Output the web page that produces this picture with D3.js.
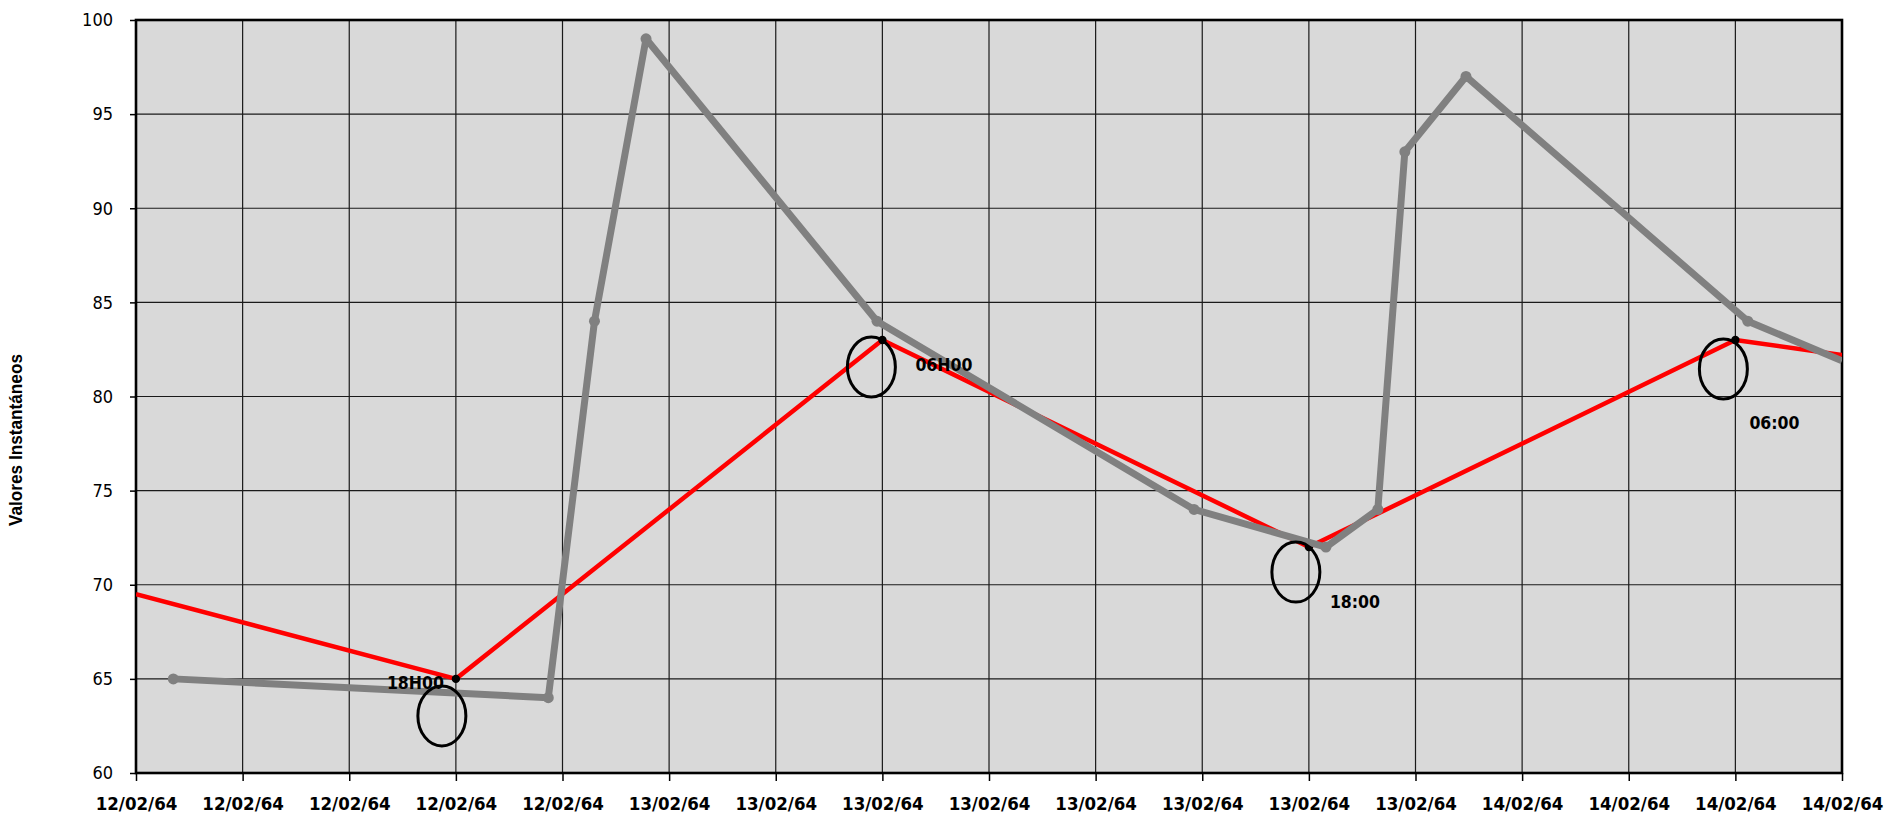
<!DOCTYPE html>
<html>
<head>
<meta charset="utf-8">
<script src="https://cdn.jsdelivr.net/npm/d3@7/dist/d3.min.js"></script>
<style>
  html, body { margin: 0; padding: 0; background: #ffffff; }
  svg { display: block; }
</style>
</head>
<body>
<svg id="chart" width="1888" height="817"></svg>
<script>
// ---- data ----
const xTickHours = [9, 12, 15, 18, 21, 24, 27, 30, 33, 36, 39, 42, 45, 48, 51, 54, 57];
const xTickLabels = ["12/02/64","12/02/64","12/02/64","12/02/64","12/02/64",
                     "13/02/64","13/02/64","13/02/64","13/02/64","13/02/64","13/02/64","13/02/64","13/02/64",
                     "14/02/64","14/02/64","14/02/64","14/02/64"];
const yTicks = [60, 65, 70, 75, 80, 85, 90, 95, 100];

const redHours  = [9, 18, 30, 42, 54, 57];
const redValues = [69.5, 65, 83, 72, 83, 82.2];

const grayHours  = [10.05, 20.6, 21.9, 23.35, 29.85, 38.77, 42.48, 43.94, 44.7, 46.42, 54.35, 57];
const grayValues = [65, 64, 84, 99, 84, 74, 72, 74, 93, 97, 84, 81.9];

const noteHours  = [18, 30, 42, 54];
const noteValues = [65, 83, 72, 83];
const noteLabels = ["18H00", "06H00", "18:00", "06:00"];

const yTitle = "Valores Instantáneos";

// ---- layout ----
const mLeft = 136, mRight = 1842, mTop = 20, mBottom = 773;
const svg = d3.select("#chart");

const x = d3.scaleLinear().domain([9, 57]).range([mLeft, mRight]);
const y = d3.scaleLinear().domain([60, 100]).range([mBottom, mTop]);

const condensed = "'DejaVu Sans Condensed', 'DejaVu Sans', sans-serif";

// plot background
svg.append("rect").attr("x", mLeft).attr("y", mTop)
  .attr("width", mRight - mLeft).attr("height", mBottom - mTop)
  .attr("fill", "#d9d9d9");

// gridlines
svg.append("g").selectAll("line").data(xTickHours.slice(1, -1)).join("line")
  .attr("x1", d => x(d)).attr("x2", d => x(d))
  .attr("y1", mTop).attr("y2", mBottom)
  .attr("stroke", "#1a1a1a").attr("stroke-width", 1.2);
svg.append("g").selectAll("line").data(yTicks.slice(1, -1)).join("line")
  .attr("y1", d => y(d)).attr("y2", d => y(d))
  .attr("x1", mLeft).attr("x2", mRight)
  .attr("stroke", "#1a1a1a").attr("stroke-width", 1.2);

// axes
const xAxis = d3.axisBottom(x).tickValues(xTickHours)
  .tickFormat((d, i) => xTickLabels[i]).tickSize(8).tickPadding(16);
const gx = svg.append("g").attr("transform", `translate(0,${mBottom})`).call(xAxis);
gx.select(".domain").remove();
gx.selectAll(".tick line").attr("stroke", "#000").attr("stroke-width", 1.5);
gx.selectAll(".tick text").attr("fill", "#000")
  .style("font-family", condensed).style("font-weight", "bold").style("font-size", "18.5px");

const yAxis = d3.axisLeft(y).tickValues(yTicks).tickSize(6).tickPadding(17);
const gy = svg.append("g").attr("transform", `translate(${mLeft},0)`).call(yAxis);
gy.select(".domain").remove();
gy.selectAll(".tick line").attr("stroke", "#000").attr("stroke-width", 1.5);
gy.selectAll(".tick text").attr("fill", "#000")
  .style("font-family", condensed).style("font-size", "18px");

// plot border
svg.append("rect").attr("x", mLeft).attr("y", mTop)
  .attr("width", mRight - mLeft).attr("height", mBottom - mTop)
  .attr("fill", "none").attr("stroke", "#000").attr("stroke-width", 2.6);

// clip
svg.append("clipPath").attr("id", "clip").append("rect")
  .attr("x", mLeft).attr("y", mTop).attr("width", mRight - mLeft).attr("height", mBottom - mTop);

const plot = svg.append("g").attr("clip-path", "url(#clip)");

const line = d3.line().x(d => x(d[0])).y(d => y(d[1]));

// red series
const redData = redHours.map((h, i) => [h, redValues[i]]);
plot.append("path").datum(redData).attr("d", line)
  .attr("fill", "none").attr("stroke", "#ff0000").attr("stroke-width", 4.5)
  .attr("stroke-linejoin", "round");

// black dots on red series
const noteData = noteHours.map((h, i) => [h, noteValues[i], noteLabels[i]]);
plot.append("g").selectAll("circle").data(noteData).join("circle")
  .attr("cx", d => x(d[0])).attr("cy", d => y(d[1])).attr("r", 4.2).attr("fill", "#000");

// gray series
const grayData = grayHours.map((h, i) => [h, grayValues[i]]);
plot.append("path").datum(grayData).attr("d", line)
  .attr("fill", "none").attr("stroke", "#808080").attr("stroke-width", 7)
  .attr("stroke-linejoin", "round");
plot.append("g").selectAll("circle").data(grayData.filter(d => d[0] < 57)).join("circle")
  .attr("cx", d => x(d[0])).attr("cy", d => y(d[1])).attr("r", 5.5).attr("fill", "#808080");

// annotations: ellipses + labels (offsets relative to annotated point)
const ellOff = [[-14, 37], [-11, 27], [-13, 25], [-12, 29]];
const txtOff = [[-12, 10, "end"], [33, 31, "start"], [21, 61, "start"], [14, 89, "start"]];

svg.append("g").selectAll("ellipse").data(noteData).join("ellipse")
  .attr("cx", (d, i) => x(d[0]) + ellOff[i][0])
  .attr("cy", (d, i) => y(d[1]) + ellOff[i][1])
  .attr("rx", 24).attr("ry", 30)
  .attr("fill", "none").attr("stroke", "#000").attr("stroke-width", 3);

svg.append("g").selectAll("text").data(noteData).join("text")
  .attr("x", (d, i) => x(d[0]) + txtOff[i][0])
  .attr("y", (d, i) => y(d[1]) + txtOff[i][1])
  .attr("text-anchor", (d, i) => txtOff[i][2])
  .style("font-family", condensed).style("font-weight", "bold").style("font-size", "17.5px")
  .attr("fill", "#000")
  .text(d => d[2]);

// y title
svg.append("text")
  .attr("transform", "translate(22,440) rotate(-90)")
  .attr("text-anchor", "middle")
  .style("font-family", "'Liberation Sans Narrow', 'Liberation Sans', Arial, sans-serif")
  .style("font-weight", "bold").style("font-size", "19px")
  .attr("textLength", 172).attr("lengthAdjust", "spacingAndGlyphs")
  .attr("fill", "#000")
  .text(yTitle);
</script>
</body>
</html>
